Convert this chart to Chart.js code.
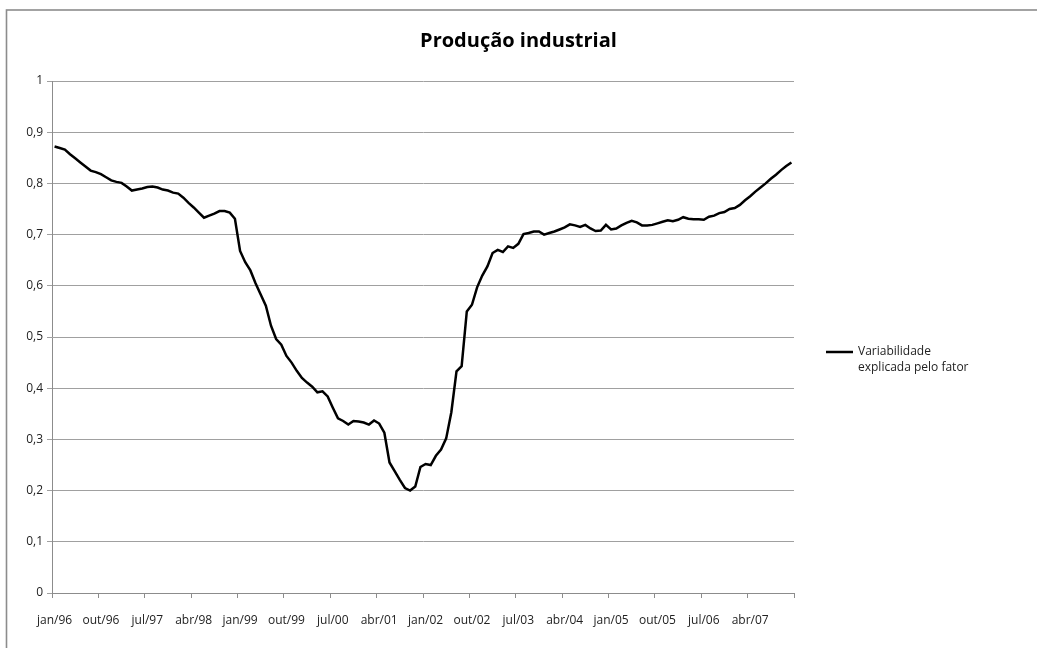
<!DOCTYPE html>
<html>
<head>
<meta charset="utf-8">
<script src="https://cdn.jsdelivr.net/npm/chart.js@4/dist/chart.umd.min.js"></script>
<style>
  html, body { margin: 0; padding: 0; background: #fff; }
  #wrap { width: 1037px; height: 648px; }
</style>
</head>
<body>
<div id="wrap"><canvas id="graph"></canvas></div>
<script>
const MONTHS = ["jan", "fev", "mar", "abr", "mai", "jun", "jul", "ago", "set", "out", "nov", "dez"];
const YEARS = ["96", "97", "98", "99", "00", "01", "02", "03", "04", "05", "06", "07"];
const SERIES_LABEL = ["Variabilidade", "explicada pelo fator"];
const TITLE = "Produção industrial";

// jan/96 .. dez/07, one value per month
const variabilidade = [
    0.872, 0.869, 0.866, 0.857, 0.849, 0.841, 0.833, 0.825, 0.822, 0.818, 0.812, 0.806,
    0.803, 0.801, 0.794, 0.786, 0.788, 0.790, 0.793, 0.794, 0.792, 0.788, 0.786, 0.782,
    0.780, 0.772, 0.762, 0.753, 0.743, 0.733, 0.737, 0.741, 0.746, 0.746, 0.743, 0.731,
    0.668, 0.646, 0.630, 0.605, 0.583, 0.561, 0.522, 0.496, 0.485, 0.463, 0.450, 0.434,
    0.420, 0.411, 0.403, 0.392, 0.394, 0.384, 0.362, 0.341, 0.336, 0.329, 0.336, 0.335,
    0.333, 0.329, 0.337, 0.331, 0.313, 0.255, 0.238, 0.221, 0.205, 0.200, 0.208, 0.246,
    0.252, 0.250, 0.268, 0.280, 0.302, 0.353, 0.433, 0.443, 0.550, 0.563, 0.597, 0.620,
    0.638, 0.664, 0.670, 0.666, 0.677, 0.674, 0.682, 0.701, 0.703, 0.706, 0.706, 0.700,
    0.703, 0.706, 0.710, 0.714, 0.720, 0.718, 0.715, 0.719, 0.712, 0.707, 0.708, 0.719,
    0.710, 0.712, 0.718, 0.723, 0.727, 0.724, 0.718, 0.718, 0.719, 0.722, 0.725, 0.728,
    0.726, 0.729, 0.734, 0.731, 0.730, 0.730, 0.729, 0.735, 0.737, 0.742, 0.744, 0.750,
    0.752, 0.758, 0.767, 0.775, 0.784, 0.792, 0.800, 0.809, 0.817, 0.826, 0.834, 0.841
];

const LABEL_EVERY = 9;

let labels = [];
for (const y of YEARS) {
    for (const m of MONTHS) {
        labels.push(m + "/" + y);
    }
}

const FONT = "'Open Sans', 'Noto Sans', sans-serif";

// grey frame round the chart + title centred on the whole canvas
const frame = {
    id: 'frame',
    beforeDraw(chart) {
        const c = chart.ctx;
        c.save();
        c.fillStyle = '#fff';
        c.fillRect(0, 0, chart.width, chart.height);
        c.strokeStyle = '#8c8c8c';
        c.lineWidth = 1.6;
        c.strokeRect(6.5, 10, chart.width + 50, chart.height + 50);
        c.fillStyle = '#000';
        c.font = "bold 20px " + FONT;
        c.textAlign = 'center';
        c.textBaseline = 'middle';
        c.fillText(TITLE, chart.width / 2, 41);
        c.restore();
    }
};

// legend on the right, two lines of text
const sideLegend = {
    id: 'sideLegend',
    afterDraw(chart) {
        const c = chart.ctx;
        const area = chart.chartArea;
        const ds = chart.data.datasets[0];
        const x = area.right + 32;
        const y = (area.top + area.bottom) / 2 + 15;
        c.save();
        c.strokeStyle = ds.borderColor;
        c.lineWidth = 2.5;
        c.beginPath();
        c.moveTo(x, y);
        c.lineTo(x + 27, y);
        c.stroke();
        c.fillStyle = '#222';
        c.font = "12px " + FONT;
        c.textBaseline = 'middle';
        ds.label.forEach((line, i) => {
            c.fillText(line, x + 32, y + i * 16);
        });
        c.restore();
    }
};

let myChart;

function buildChart() {
    const ctx = document.getElementById('graph').getContext('2d');

    myChart = new Chart(ctx, {
        type: 'line',
        data: {
            labels: labels,
            datasets: [{
                label: SERIES_LABEL,
                data: variabilidade,
                borderColor: '#000',
                borderWidth: 2.5,
                pointRadius: 0,
                tension: 0,
                fill: false
            }]
        },
        options: {
            responsive: true,
            maintainAspectRatio: false,
            animation: false,
            layout: {
                padding: { left: 0, right: 243, top: 81, bottom: 20 }
            },
            plugins: {
                legend: { display: false },
                tooltip: { enabled: false },
                title: { display: false }
            },
            scales: {
                x: {
                    type: 'category',
                    offset: true,
                    afterFit(scale) { scale.height = 35; },
                    grid: {
                        offset: true,
                        drawOnChartArea: false,
                        drawTicks: true,
                        tickLength: 5,
                        color: c => (c.index === undefined || c.index % LABEL_EVERY === 0) ? '#8c8c8c' : 'rgba(0,0,0,0)'
                    },
                    border: { display: true, color: '#8c8c8c', width: 1 },
                    ticks: {
                        autoSkip: false,
                        maxRotation: 0,
                        minRotation: 0,
                        padding: 15,
                        color: '#222',
                        font: { family: FONT, size: 12 },
                        callback: function (val, index) {
                            return index % LABEL_EVERY === 0 ? this.getLabelForValue(val) : '';
                        }
                    }
                },
                y: {
                    min: 0,
                    max: 1,
                    afterFit(scale) { scale.width = 52; },
                    grid: {
                        color: '#a0a0a0',
                        lineWidth: 1,
                        drawTicks: true,
                        tickLength: 5
                    },
                    border: { display: true, color: '#8c8c8c', width: 1 },
                    ticks: {
                        stepSize: 0.1,
                        padding: 4,
                        color: '#222',
                        font: { family: FONT, size: 12 },
                        callback: v => (Math.round(v * 10) / 10).toString().replace('.', ',')
                    }
                }
            }
        },
        plugins: [frame, sideLegend]
    });
}

buildChart();
</script>
</body>
</html>
